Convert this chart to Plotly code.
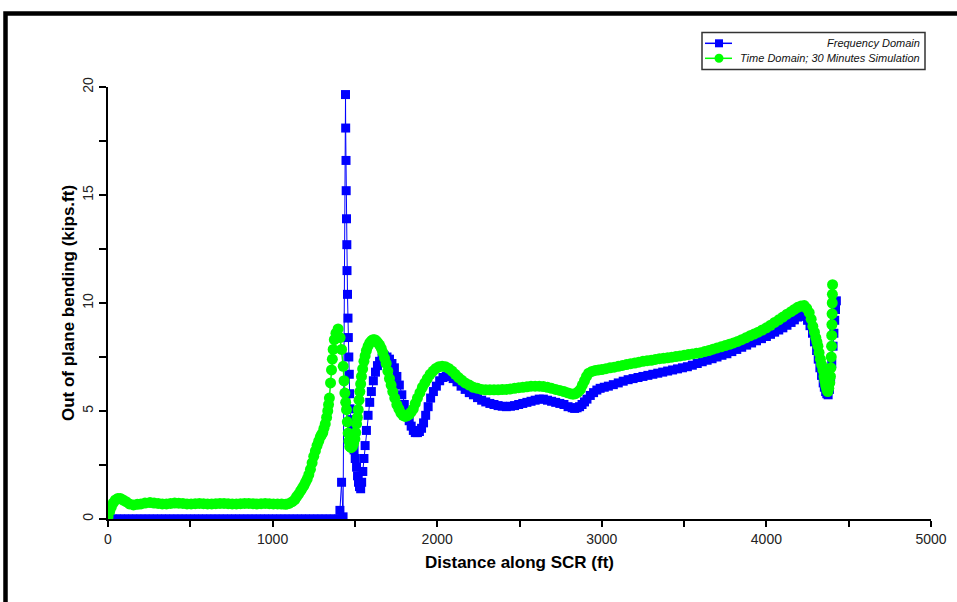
import plotly.graph_objects as go

# ---------------- data ----------------
freq_x = [0, 25, 50, 75, 100, 125, 150, 175, 200, 225, 250, 275, 300, 325, 350, 375,
          400, 425, 450, 475, 500, 525, 550, 575, 600, 625, 650, 675, 700, 725, 750,
          775, 800, 825, 850, 875, 900, 925, 950, 975, 1000, 1025, 1050, 1075, 1100,
          1125, 1150, 1175, 1200, 1225, 1250, 1275, 1300, 1325, 1350, 1375, 1400,
          1409, 1419, 1428, 1443, 1444, 1446, 1447, 1449, 1451, 1452, 1455, 1458, 1460,
          1463, 1466, 1468,
          1470, 1475, 1480, 1487, 1495, 1502, 1510, 1516, 1522, 1528, 1535, 1541, 1548,
          1555, 1562, 1570, 1580, 1590, 1600, 1612, 1625, 1637, 1650, 1665, 1680, 1695,
          1710, 1725, 1740, 1755, 1770, 1785, 1800, 1815, 1830, 1842, 1855, 1867, 1880,
          1892, 1905, 1917, 1930, 1945, 1960, 1977, 1995, 2015, 2035, 2055, 2075, 2097,
          2120, 2145, 2170, 2195, 2220, 2245, 2270, 2295, 2320, 2345, 2370, 2395, 2420,
          2445, 2470, 2495, 2520, 2545, 2570, 2595, 2620, 2645, 2670, 2695, 2720, 2745,
          2770, 2795, 2820, 2835, 2850, 2865, 2880, 2895, 2910, 2930, 2950, 2970, 2990,
          3015, 3040, 3070, 3100, 3130, 3160, 3190, 3220, 3250, 3280, 3310, 3340, 3370,
          3400, 3430, 3460, 3490, 3520, 3550, 3580, 3610, 3640, 3670, 3700, 3730, 3760,
          3790, 3820, 3850, 3880, 3910, 3940, 3970, 4000, 4025, 4050, 4075, 4100, 4125,
          4150, 4170, 4190, 4205, 4220, 4235, 4250, 4265, 4280, 4292, 4305, 4315, 4325,
          4335, 4345, 4352, 4360, 4367, 4375, 4383, 4390, 4397, 4405, 4410, 4415, 4420,
          4425]
freq_y = [0, 0, 0, 0, 0, 0, 0, 0, 0, 0, 0, 0, 0, 0, 0, 0,
          0, 0, 0, 0, 0, 0, 0, 0, 0, 0, 0, 0, 0, 0, 0,
          0, 0, 0, 0, 0, 0, 0, 0, 0, 0, 0, 0, 0, 0,
          0, 0, 0, 0, 0, 0, 0, 0, 0, 0, 0, 0,
          0.4, 1.7, 0.1, 19.65, 18.1, 16.6, 15.2, 13.9, 12.7, 11.5, 10.4, 9.3, 8.4,
          7.5, 6.7, 5.8,
          5.1, 4.6, 4.2, 3.7, 3.2, 2.8, 2.4, 2.0, 1.7, 1.5, 1.4, 1.7, 2.2,
          2.8, 3.4, 4.1, 4.8, 5.4, 5.9, 6.4, 6.8, 7.1, 7.3, 7.45, 7.55, 7.5,
          7.4, 7.2, 7.0, 6.6, 6.2, 5.75, 5.3, 4.9, 4.55, 4.3, 4.1, 4.0, 4.0,
          4.05, 4.2, 4.45, 4.8, 5.2, 5.6, 5.9, 6.15, 6.4, 6.55, 6.6, 6.6, 6.5,
          6.35, 6.15, 6.0, 5.85, 5.75, 5.62, 5.5, 5.42, 5.35, 5.3, 5.25, 5.22, 5.2,
          5.22, 5.25, 5.3, 5.35, 5.4, 5.45, 5.5, 5.55, 5.55, 5.5, 5.45, 5.4, 5.35,
          5.3, 5.2, 5.15, 5.12, 5.15, 5.2, 5.3, 5.42, 5.55, 5.72, 5.85, 5.97, 6.05,
          6.1, 6.15, 6.22, 6.3, 6.38, 6.45, 6.5, 6.55, 6.6, 6.65, 6.7, 6.75, 6.8,
          6.85, 6.9, 6.95, 7.0, 7.05, 7.12, 7.2, 7.28, 7.35, 7.42, 7.5, 7.58, 7.65,
          7.75, 7.85, 7.95, 8.05, 8.15, 8.25, 8.35, 8.45, 8.55, 8.65, 8.75, 8.85, 8.97,
          9.1, 9.22, 9.35, 9.42, 9.45, 9.38, 9.2, 8.95, 8.6, 8.2, 7.8, 7.4, 7.0,
          6.65, 6.3, 6.1, 5.9, 5.8, 5.75, 6.0, 6.5, 7.2, 8.0, 8.6, 9.2, 9.7,
          10.1]

time_x = [0, 10, 20, 32, 45, 60, 75, 92, 110, 130, 155, 178, 200, 225, 255, 280, 305,
          330, 355, 380, 405, 430, 455, 480, 505, 530, 555, 580, 605, 630, 655, 680,
          705, 730, 755, 780, 805, 830, 855, 880, 905, 930, 955, 980, 1005, 1030, 1055,
          1080, 1100, 1120, 1135, 1146, 1158, 1170, 1180, 1190, 1200, 1210, 1220, 1230,
          1240, 1250, 1260, 1270, 1280, 1290, 1297, 1305, 1312, 1320, 1328, 1335, 1340,
          1345, 1352, 1358, 1363, 1368, 1375, 1385, 1398, 1410, 1419, 1429, 1434, 1439,
          1444, 1449, 1454, 1459, 1464, 1469, 1477, 1485, 1492, 1500, 1505, 1510, 1515,
          1520, 1525, 1530, 1535, 1540, 1547, 1555, 1562, 1570, 1580, 1590, 1600, 1610,
          1620, 1630, 1640, 1650, 1660, 1670, 1680, 1690, 1700, 1710, 1720, 1730, 1742,
          1755, 1767, 1780, 1792, 1805, 1817, 1830, 1842, 1855, 1867, 1880, 1895, 1910,
          1925, 1940, 1957, 1975, 1992, 2010, 2030, 2050, 2070, 2090, 2110, 2130, 2150,
          2170, 2195, 2220, 2245, 2270, 2295, 2320, 2345, 2370, 2395, 2420, 2445, 2470,
          2495, 2520, 2545, 2570, 2595, 2620, 2645, 2670, 2695, 2720, 2745, 2770, 2790,
          2810, 2825, 2840, 2855, 2870, 2882, 2895, 2907, 2920, 2940, 2960, 2980, 3000,
          3025, 3050, 3075, 3100, 3125, 3150, 3175, 3200, 3225, 3250, 3275, 3300, 3325,
          3350, 3375, 3400, 3425, 3450, 3475, 3500, 3525, 3550, 3575, 3600, 3625, 3650,
          3675, 3700, 3725, 3750, 3775, 3800, 3825, 3850, 3875, 3900, 3925, 3950, 3975,
          4000, 4025, 4050, 4075, 4100, 4125, 4150, 4170, 4190, 4210, 4230, 4245, 4260,
          4272, 4282, 4292, 4300, 4307, 4313, 4320, 4328, 4335, 4343, 4350, 4355, 4360,
          4364, 4368, 4373, 4379, 4385, 4389, 4392, 4394, 4396, 4397, 4398, 4399, 4400,
          4401, 4402]
time_y = [0.1, 0.35, 0.55, 0.75, 0.88, 0.95, 0.95, 0.88, 0.8, 0.7, 0.65, 0.68, 0.7, 0.74, 0.76, 0.74, 0.72,
          0.7, 0.7, 0.72, 0.74, 0.73, 0.72, 0.7, 0.7, 0.71, 0.72, 0.71, 0.7, 0.7, 0.71, 0.72,
          0.72, 0.71, 0.7, 0.7, 0.71, 0.72, 0.72, 0.71, 0.7, 0.71, 0.72, 0.71, 0.7, 0.7, 0.69,
          0.68, 0.72, 0.8, 0.9, 1.03, 1.15, 1.3, 1.42, 1.55, 1.7, 1.85, 2.05, 2.3,
          2.6, 2.9, 3.15, 3.4, 3.6, 3.8, 3.9, 4.0, 4.2, 4.4, 4.7, 5.0, 5.3,
          5.6, 6.3, 6.9, 7.4, 7.85, 8.3, 8.6, 8.8, 8.4, 7.85, 7.07, 6.4, 5.83,
          5.4, 5.06, 4.5, 3.98, 3.6, 3.36, 3.3, 3.35, 3.5, 3.7, 4.0, 4.4, 4.7,
          5.06, 5.5, 5.9, 6.25, 6.6, 6.95, 7.3, 7.55, 7.8, 8.0, 8.15, 8.25, 8.3,
          8.3, 8.25, 8.15, 8.05, 7.9, 7.7, 7.45, 7.2, 6.85, 6.5, 6.2, 5.9, 5.6,
          5.3, 5.1, 4.9, 4.8, 4.75, 4.78, 4.85, 4.95, 5.1, 5.35, 5.6, 5.85, 6.1,
          6.3, 6.5, 6.7, 6.85, 6.97, 7.05, 7.07, 7.05, 6.97, 6.85, 6.7, 6.55, 6.42,
          6.3, 6.2, 6.1, 6.05, 6.0, 5.98, 5.98, 5.98, 5.98, 5.99, 6.0, 6.02, 6.05,
          6.08, 6.1, 6.12, 6.15, 6.15, 6.15, 6.13, 6.1, 6.05, 6.0, 5.95, 5.9, 5.85,
          5.8, 5.78, 5.8, 5.88, 6.0, 6.2, 6.4, 6.6, 6.75, 6.83, 6.88, 6.9, 6.92,
          6.96, 7.0, 7.03, 7.07, 7.11, 7.15, 7.19, 7.22, 7.26, 7.3, 7.33, 7.35, 7.39,
          7.42, 7.44, 7.46, 7.49, 7.52, 7.55, 7.58, 7.61, 7.64, 7.67, 7.7, 7.75, 7.8,
          7.86, 7.92, 7.97, 8.03, 8.09, 8.15, 8.22, 8.3, 8.39, 8.48, 8.56, 8.65, 8.75,
          8.85, 8.97, 9.1, 9.22, 9.35, 9.48, 9.6, 9.7, 9.8, 9.86, 9.88, 9.75, 9.55,
          9.25, 8.92, 8.65, 8.4, 8.2, 8.0, 7.7, 7.4, 7.15, 6.9, 6.6, 6.4, 6.2,
          6.1, 5.98, 5.9, 6.05, 6.3, 6.6, 7.0, 7.5, 8.0, 8.5, 9.0, 9.5, 10.0,
          10.4, 10.85]

series_names = ["Frequency Domain", "Time Domain; 30 Minutes Simulation"]
x_title = "Distance along SCR (ft)"
y_title = "Out of plane bending (kips.ft)"

BLUE = "#0000FF"
GREEN = "#00FF00"

fig = go.Figure()
fig.add_trace(go.Scatter(x=freq_x, y=freq_y, mode="lines+markers", name=series_names[0],
                         line=dict(color=BLUE, width=1),
                         marker=dict(symbol="square", size=9, color=BLUE)))
fig.add_trace(go.Scatter(x=time_x, y=time_y, mode="lines+markers", name=series_names[1],
                         line=dict(color=GREEN, width=1.5),
                         marker=dict(symbol="circle", size=11, color=GREEN)))

axis_font = dict(family="Arial", size=14, color="#222")
title_font = dict(family="Arial", size=17, color="black")

fig.update_xaxes(range=[0, 5000], tick0=0, dtick=1000, ticks="outside", ticklen=6,
                 tickwidth=2, tickcolor="black", showline=True, linewidth=2,
                 linecolor="black", showgrid=False, zeroline=False, automargin=False,
                 minor=dict(ticks="outside", dtick=500, ticklen=6, tickwidth=2,
                            tickcolor="black", showgrid=False),
                 tickfont=axis_font,
                 title=dict(text="<b>" + x_title + "</b>", font=title_font, standoff=10))
fig.update_yaxes(range=[0, 20], tick0=0, dtick=5, ticks="outside", ticklen=7,
                 tickwidth=2, tickcolor="black", showline=True, linewidth=2,
                 linecolor="black", showgrid=False, zeroline=False, automargin=False,
                 tickangle=-90,
                 minor=dict(ticks="outside", dtick=2.5, ticklen=7, tickwidth=2,
                            tickcolor="black", showgrid=False),
                 tickfont=axis_font,
                 title=dict(text="<b>" + y_title + "</b>", font=title_font, standoff=1))

# helpers to convert pixel positions of decoration into paper coordinates
L, R, T, B = 108, 26, 87, 83
W, H = 957, 602
PW, PH = W - L - R, H - T - B


def px(xp):
    return (xp - L) / PW


def py(yp):
    return (H - B - yp) / PH


shapes = []
# outer frame (thick black border, partly cut by the window)
shapes.append(dict(type="rect", xref="paper", yref="paper",
                   x0=px(5.5), x1=px(990), y0=py(13.5), y1=py(650),
                   line=dict(color="black", width=4.5), fillcolor="rgba(0,0,0,0)"))
# legend box
shapes.append(dict(type="rect", xref="paper", yref="paper",
                   x0=px(702), x1=px(925), y0=py(69.5), y1=py(32.5),
                   line=dict(color="#333", width=1.5), fillcolor="white"))
# legend symbols
for yy, col, kind, half in [(43.3, BLUE, "rect", 4), (58.3, GREEN, "circle", 4.5)]:
    shapes.append(dict(type="line", xref="paper", yref="paper",
                       x0=px(705), x1=px(732), y0=py(yy), y1=py(yy),
                       line=dict(color=col, width=1.5)))
    shapes.append(dict(type=kind, xref="paper", yref="paper",
                       x0=px(719 - half), x1=px(719 + half),
                       y0=py(yy + half), y1=py(yy - half),
                       line=dict(color=col, width=0), fillcolor=col))

annotations = []
for yy, name in [(43.3, series_names[0]), (58.3, series_names[1])]:
    annotations.append(dict(xref="paper", yref="paper", x=px(922), y=py(yy),
                            xanchor="right", yanchor="middle", showarrow=False,
                            text="<i>" + name + "</i>",
                            font=dict(family="Arial", size=11, color="#111")))

fig.update_layout(width=W, height=H, margin=dict(l=L, r=R, t=T, b=B),
                  paper_bgcolor="white", plot_bgcolor="white", showlegend=False,
                  shapes=shapes, annotations=annotations)

fig.write_html("out.html")
